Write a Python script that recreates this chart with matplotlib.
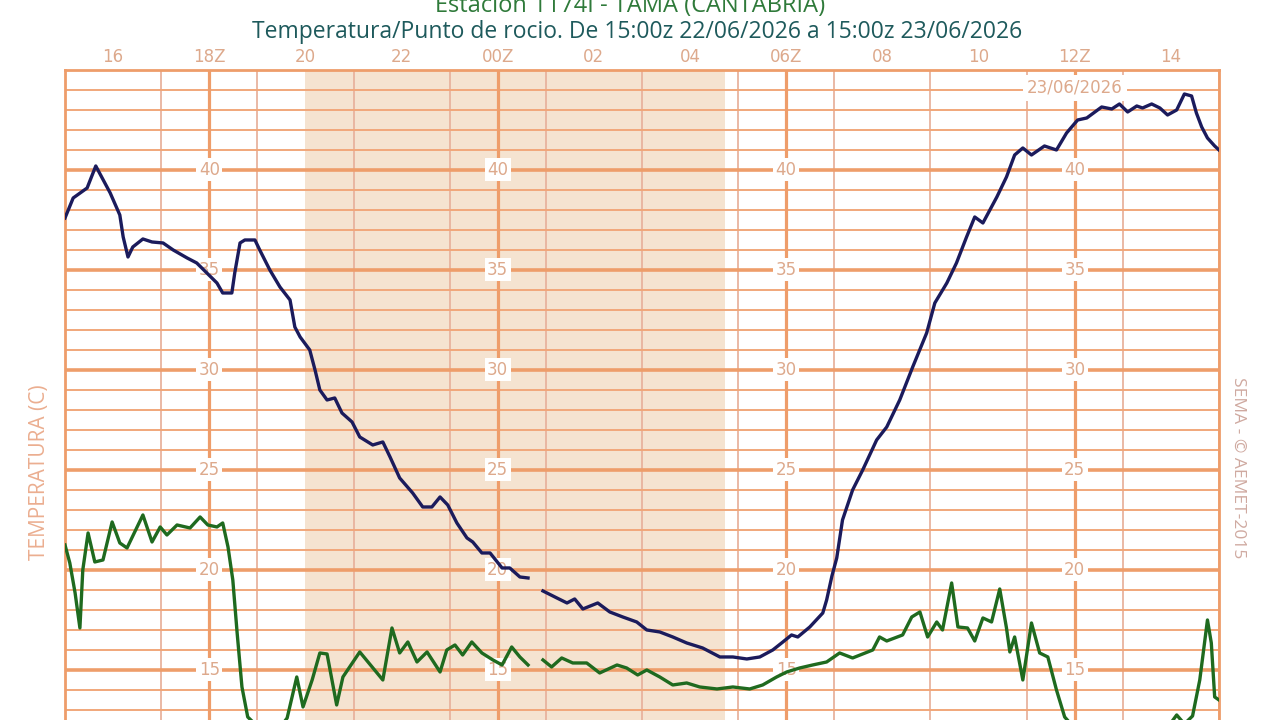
import numpy as np
import matplotlib.pyplot as plt

# hours after 15:00z 22/06/2026
temp_h = [0.0, 0.17, 0.46, 0.64, 0.94, 1.14, 1.21, 1.31, 1.41, 1.62, 1.81, 2.04, 2.25, 2.54,
          2.74, 2.95, 3.16, 3.28, 3.47, 3.53, 3.64, 3.74, 3.95, 4.05, 4.26, 4.47, 4.68, 4.78,
          4.89, 5.09, 5.20, 5.30, 5.45, 5.61, 5.76, 5.97, 6.13, 6.40, 6.61, 6.76, 6.96, 7.23,
          7.44, 7.63, 7.80, 7.96, 8.15, 8.36, 8.48, 8.67, 8.84, 9.09, 9.25, 9.46, 9.63, 9.78,
          9.94, 10.23, 10.44, 10.60, 10.77, 11.08, 11.33, 11.60, 11.89, 12.10, 12.37, 12.64,
          12.93, 13.26, 13.62, 13.89, 14.18, 14.45, 14.72, 14.93, 15.11, 15.24, 15.49, 15.76,
          15.84, 15.95, 16.05, 16.17, 16.38, 16.59, 16.88, 17.09, 17.36, 17.63, 17.92, 18.09,
          18.34, 18.54, 18.75, 18.92, 19.09, 19.38, 19.58, 19.75, 19.92, 20.10, 20.37, 20.62,
          20.83, 21.06, 21.25, 21.56, 21.77, 21.93, 22.10, 22.29, 22.41, 22.60, 22.77, 22.93,
          23.12, 23.28, 23.43, 23.53, 23.64, 23.76, 23.91, 24.0]
temp = [37.6, 38.6, 39.1, 40.2, 38.85, 37.75, 36.65, 35.65, 36.15, 36.55, 36.4, 36.35, 36.0, 35.6,
        35.35, 34.85, 34.35, 33.85, 33.85, 34.85, 36.35, 36.5, 36.5, 36.0, 35.0, 34.15, 33.5, 32.15,
        31.65, 31.0, 30.0, 29.0, 28.5, 28.6, 27.85, 27.4, 26.65, 26.25, 26.4, 25.65, 24.6, 23.85,
        23.15, 23.15, 23.65, 23.25, 22.35, 21.6, 21.4, 20.85, 20.85, 20.1, 20.1, 19.65, 19.6, np.nan,
        18.95, 18.6, 18.35, 18.55, 18.05, 18.35, 17.9, 17.65, 17.4, 17.0, 16.9, 16.65,
        16.35, 16.1, 15.65, 15.65, 15.55, 15.65, 16.0, 16.4, 16.75, 16.65, 17.15, 17.85,
        18.5, 19.7, 20.6, 22.5, 24.0, 25.0, 26.5, 27.15, 28.5, 30.15, 31.85, 33.35,
        34.35, 35.35, 36.65, 37.65, 37.35, 38.65, 39.65, 40.75, 41.1, 40.75, 41.2, 41.0,
        41.85, 42.5, 42.6, 43.15, 43.05, 43.3, 42.9, 43.2, 43.1, 43.3, 43.1, 42.75,
        43.0, 43.8, 43.7, 42.85, 42.15, 41.6, 41.2, 41.0]

dew_h = [0.0, 0.10, 0.21, 0.31, 0.37, 0.48, 0.62, 0.79, 0.98, 1.14, 1.29, 1.62, 1.81, 1.98,
         2.12, 2.33, 2.60, 2.81, 2.97, 3.16, 3.28, 3.39, 3.49, 3.58, 3.68, 3.80, 3.95, 4.26,
         4.53, 4.62, 4.82, 4.95, 5.14, 5.30, 5.45, 5.65, 5.78, 6.13, 6.61, 6.80, 6.96, 7.13,
         7.32, 7.53, 7.80, 7.94, 8.11, 8.27, 8.46, 8.67, 8.90, 9.09, 9.29, 9.46, 9.63, 9.78,
         9.94, 10.12, 10.33, 10.56, 10.85, 11.12, 11.48, 11.68, 11.91, 12.10, 12.37, 12.64,
         12.93, 13.20, 13.56, 13.89, 14.24, 14.51, 14.80, 15.01, 15.28, 15.55, 15.84, 16.11,
         16.38, 16.80, 16.94, 17.09, 17.42, 17.61, 17.78, 17.94, 18.13, 18.25, 18.44, 18.57,
         18.77, 18.92, 19.09, 19.27, 19.44, 19.58, 19.65, 19.75, 19.92, 20.10, 20.27, 20.44,
         20.62, 20.79, 21.10, 21.93, 22.77, 23.12, 23.28, 23.45, 23.60, 23.76, 23.84, 23.91, 24.0]
dew = [21.25, 20.35, 18.85, 17.1, 20.0, 21.85, 20.4, 20.5, 22.4, 21.35, 21.1, 22.75, 21.4, 22.15,
       21.75, 22.25, 22.1, 22.65, 22.25, 22.15, 22.35, 21.15, 19.5, 16.85, 14.15, 12.65, 12.3, 11.8,
       12.3, 12.6, 14.65, 13.15, 14.5, 15.85, 15.8, 13.25, 14.65, 15.9, 14.5, 17.1, 15.85, 16.4,
       15.4, 15.9, 14.9, 16.0, 16.25, 15.75, 16.4, 15.85, 15.5, 15.25, 16.15, 15.65, 15.25, np.nan,
       15.5, 15.15, 15.6, 15.35, 15.35, 14.85, 15.25, 15.1, 14.75, 15.0, 14.65, 14.25,
       14.35, 14.15, 14.05, 14.15, 14.05, 14.25, 14.65, 14.9, 15.1, 15.25, 15.4, 15.85,
       15.6, 16.0, 16.65, 16.45, 16.75, 17.65, 17.9, 16.65, 17.4, 17.0, 19.35, 17.15,
       17.1, 16.45, 17.6, 17.4, 19.05, 17.1, 15.9, 16.65, 14.5, 17.35, 15.85, 15.65,
       14.0, 12.65, 11.8, 11.0, 11.6, 12.75, 12.3, 12.7, 14.5, 17.5, 16.35, 13.65, 13.5]

hour_ticks = [1, 3, 5, 7, 9, 11, 13, 15, 17, 19, 21, 23]
hour_labels = ["16", "18Z", "20", "22", "00Z", "02", "04", "06Z", "08", "10", "12Z", "14"]
synop_hours = [3, 9, 15, 21]
temp_labels = [15, 20, 25, 30, 35, 40]
night = (5.0, 13.72)

salmon = "#EE9D6A"
label_col = "#DDA98C"
cond = ["Liberation Sans Narrow", "DejaVu Sans"]

fig = plt.figure(figsize=(12.8, 7.2), dpi=100)
ax = fig.add_axes([65 / 1280, -0.0694, 1154 / 1280, 0.9722])
ax.set_xlim(0, 24)
ax.set_ylim(10, 45)

ax.axvspan(night[0], night[1], color="#F5E3D0", lw=0, zorder=0)

# grid
ax.set_xticks(np.arange(0, 25, 1), minor=True)
ax.set_yticks(np.arange(10, 46, 1), minor=True)
ax.grid(which="minor", axis="x", color="#E8B39E", lw=1.3, zorder=1)
ax.grid(which="minor", axis="y", color="#F1A77A", lw=1.4, zorder=1)
for h in synop_hours:
    ax.axvline(h, color=salmon, lw=2.3, zorder=1.5)
for v in temp_labels:
    ax.axhline(v, color=salmon, lw=2.6, zorder=1.5)
ax.set_axisbelow(True)
for s in ax.spines.values():
    s.set_color(salmon)
    s.set_linewidth(2)

ax.xaxis.tick_top()
ax.set_xticks(hour_ticks)
ax.set_xticklabels(hour_labels, fontsize=12, color=label_col, family=cond)
ax.tick_params(axis="x", which="both", length=0, pad=3)
ax.tick_params(axis="y", which="both", length=0, labelleft=False)
ax.set_yticks([])

for h in synop_hours:
    for v in temp_labels:
        ax.text(h, v, str(v), ha="center", va="center", fontsize=12, color=label_col,
                family=cond, zorder=3,
                bbox=dict(boxstyle="square,pad=0.15", fc="white", ec="none"))

ax.text(21.0, 44.1, "23/06/2026", ha="center", va="center", fontsize=12, color=label_col,
        family=cond, zorder=3, bbox=dict(boxstyle="square,pad=0.25", fc="white", ec="none"))

ax.plot(temp_h, temp, color="#1B1B5C", lw=2.4, zorder=4)
ax.plot(dew_h, dew, color="#1F6A1F", lw=2.4, zorder=4)

fig.text(630 / 1280, 1 - 6 / 720, "Estacion 1174I - TAMA (CANTABRIA)", ha="center", va="center",
         fontsize=17, color="#2F7A3A", family="Open Sans")
fig.text(637 / 1280, 1 - 32 / 720,
         "Temperatura/Punto de rocio. De 15:00z 22/06/2026 a 15:00z 23/06/2026",
         ha="center", va="center", fontsize=16.5, color="#1E5A5C", family="Open Sans")
fig.text(40 / 1280, 1 - 472 / 720, "TEMPERATURA (C)", rotation=90, ha="center", va="center",
         fontsize=15, color="#EBAE90", family="Open Sans")
fig.text(1238 / 1280, 1 - 468 / 720, "SEMA - \u00a9 AEMET-2015", rotation=-90, ha="center",
         va="center", fontsize=12.5, color="#CFA9A0", family="Open Sans")

fig.savefig("out.png", dpi=100)
